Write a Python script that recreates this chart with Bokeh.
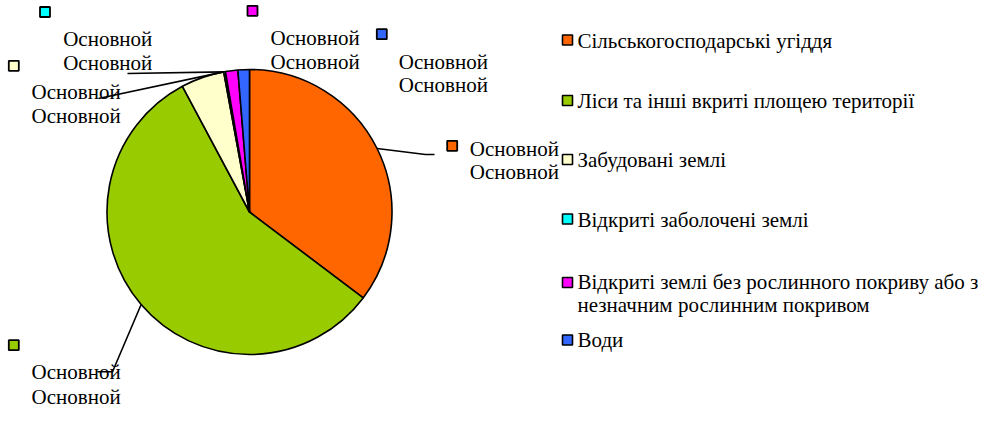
import math
from bokeh.plotting import figure
from bokeh.models import Range1d
from bokeh.core.properties import value
from bokeh.embed import file_html
from bokeh.resources import INLINE

# ---- data ----
categories = [
    "Сільськогосподарські угіддя",
    "Ліси та інші вкриті площею території",
    "Забудовані землі",
    "Відкриті заболочені землі",
    "Відкриті землі без рослинного покриву або з незначним рослинним покривом",
    "Води",
]
legend_lines = [
    ["Сільськогосподарські угіддя"],
    ["Ліси та інші вкриті площею території"],
    ["Забудовані землі"],
    ["Відкриті заболочені землі"],
    ["Відкриті землі без рослинного покриву або з", "незначним рослинним покривом"],
    ["Води"],
]
shares = [35.3, 56.9, 4.9, 0.2, 1.4, 1.3]
colors = ["#FF6600", "#99CC00", "#FFFFCC", "#00FFFF", "#FF00FF", "#3366FF"]
label_text = ["Основной", "Основной"]

# ---- layout (screen px of the reference picture, shifted to fit) ----
W, H = 984, 412
DX, DY = -5, -8
def X(sx):
    return sx + DX
def Y(sy):
    return H - (sy + DY)

FONT = value("Liberation Serif, Times New Roman, serif")
FS = "21px"

p = figure(width=W, height=H, output_backend="svg", toolbar_location=None,
           x_range=Range1d(0, W), y_range=Range1d(0, H), min_border=0)
p.axis.visible = False
p.grid.visible = False
p.outline_line_color = None
p.background_fill_color = "white"

cx, cy, R = X(254), Y(219.5), 142.5
total = sum(shares)
starts, ends, mids = [], [], []
acc = 0.0
for s in shares:
    a0 = math.pi / 2 - 2 * math.pi * acc / total
    acc += s
    a1 = math.pi / 2 - 2 * math.pi * acc / total
    starts.append(a0)
    ends.append(a1)
    mids.append((a0 + a1) / 2)

p.wedge(x=cx, y=cy, radius=R, start_angle=starts, end_angle=ends,
        direction="clock", fill_color=colors, line_color="black", line_width=1.6)

def edge(theta):
    return cx + R * math.cos(theta), cy + R * math.sin(theta)

GY = 14  # extra upward shift of the bottom (green) label so it stays inside
# leader lines
o0 = edge(mids[0])
g0 = edge(mids[1])
yc = edge(ends[2])
leaders_x = [
    [o0[0], X(430), X(439)],
    [g0[0], X(117), X(102)],
    [yc[0], X(103)],
    [yc[0], X(132)],
]
leaders_y = [
    [o0[1], Y(162), Y(162)],
    [g0[1], Y(393.3 - GY), Y(393.3 - GY)],
    [yc[1], Y(106)],
    [yc[1], Y(81)],
]
p.multi_line(xs=leaders_x, ys=leaders_y, line_color="black", line_width=1.6)

# data label markers and texts
lab_marker = [(456.7, 153.3), (18.3, 366.7 - GY), (18.3, 73.3), (49.5, 19.5), (257, 18.3), (386.3, 41.7)]
lab_text = [(474.3, 156, 179.5), (36, 393.3 - GY, 418 - GY), (36, 99, 123), (67.7, 46.5, 70),
            (275, 45.5, 69.5), (403.3, 69.3, 92.7)]

p.scatter(x=[X(m[0]) for m in lab_marker], y=[Y(m[1]) for m in lab_marker],
          marker="square", size=10, fill_color=colors, line_color="black", line_width=1.8)

tx, ty, tt = [], [], []
for (lx, y1, y2) in lab_text:
    for yy, t in zip((y1, y2), label_text):
        tx.append(X(lx)); ty.append(Y(yy)); tt.append(t)
p.text(x=tx, y=ty, text=tt, text_font=FONT, text_font_size=FS,
       text_color="black", text_align="left", text_baseline="middle")

# legend
LX = -7
leg_marker_y = [47.5, 108, 167, 226.5, 290, 347.5]
leg_text_y = [[48], [108], [167], [227.5], [289, 312], [347]]
p.scatter(x=[X(579 + LX)] * len(colors), y=[Y(v) for v in leg_marker_y], marker="square",
          size=10, fill_color=colors, line_color="black", line_width=1.6)
lx_, ly_, lt_ = [], [], []
for lines, ys in zip(legend_lines, leg_text_y):
    for t, yy in zip(lines, ys):
        lx_.append(X(589 + LX)); ly_.append(Y(yy)); lt_.append(t)
p.text(x=lx_, y=ly_, text=lt_, text_font=FONT, text_font_size=FS,
       text_color="black", text_align="left", text_baseline="middle")

open("out.html", "w").write(file_html(p, INLINE))
